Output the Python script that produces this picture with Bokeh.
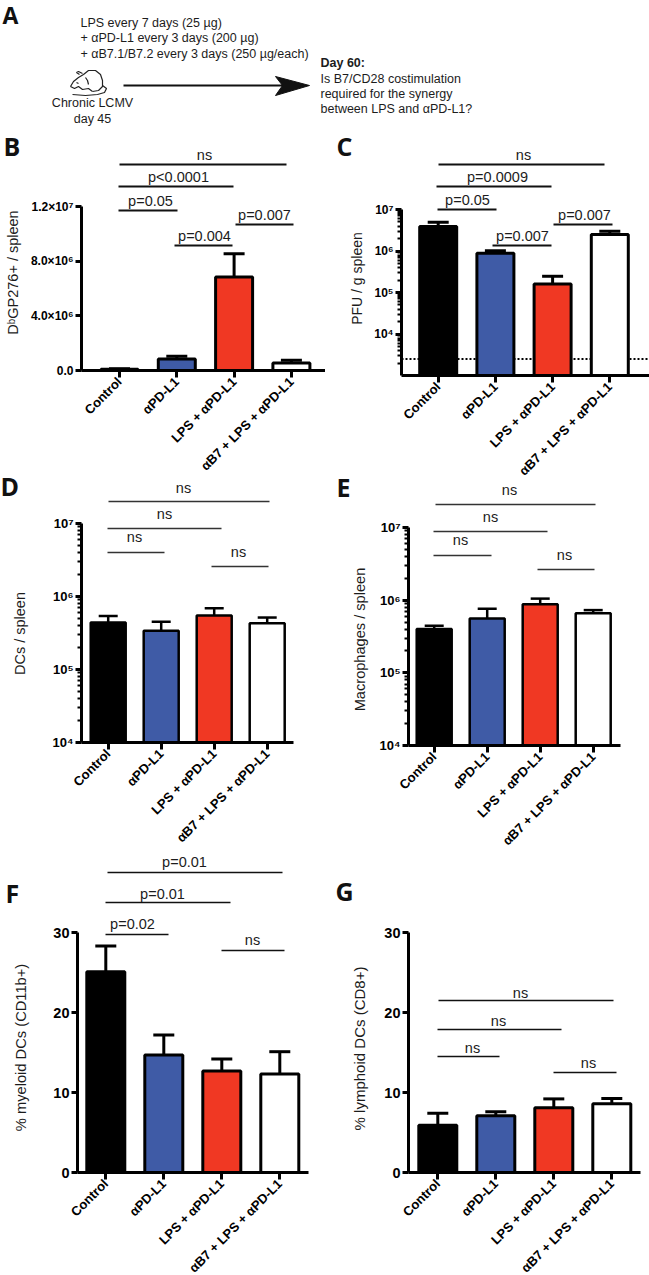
import math
from bokeh.embed import file_html
from bokeh.layouts import column, row
from bokeh.models import FixedTicker, Label, Range1d
from bokeh.plotting import figure
from bokeh.resources import INLINE

# ---------- data ----------
categories = ["Control", "αPD-L1", "LPS + αPD-L1", "αB7 + LPS + αPD-L1"]

b_means = [0.1e6, 0.85e6, 6.85e6, 0.55e6]
b_tops = [0.13e6, 1.05e6, 8.55e6, 0.75e6]
c_means = [3.9e6, 8.8e5, 1.6e5, 2.5e6]
c_tops = [4.9e6, 1.02e6, 2.46e5, 3.0e6]
c_limit = 2.5e3
d_means = [4.4e5, 3.4e5, 5.5e5, 4.3e5]
d_tops = [5.4e5, 4.5e5, 6.9e5, 5.15e5]
e_means = [4.0e5, 5.6e5, 8.8e5, 6.6e5]
e_tops = [4.43e5, 7.6e5, 1.05e6, 7.3e5]
f_means = [25.1, 14.7, 12.7, 12.3]
f_tops = [28.3, 17.2, 14.2, 15.1]
g_means = [5.9, 7.1, 8.1, 8.6]
g_tops = [7.4, 7.6, 9.2, 9.25]

BAR_COLORS = ["#000000", "#3F5BA6", "#F03823", "#FFFFFF"]
SANS = "Liberation Sans"
TEXT = "#1c1c1c"
BASELINE_LIFT = 0.4  # Bokeh's alphabetic Label sits this many font sizes below the given y


def make_panel(letter, letter_pos, means, tops, cell, axis_x, axis_top, axis_bottom, x_end,
               c0, spacing, bar_px, bar_lw, log_span, linear_ticks, tick_size, title, title_pos,
               title_size, brackets, bracket_w, bracket_color, notes, tick_text=None, cap_px=21, limit=None):
    left, right, top, bottom = cell

    def vy(px):
        if log_span:
            lo, hi = log_span
            return 10 ** (lo + (axis_bottom - px) * (hi - lo) / (axis_bottom - axis_top))
        return (axis_bottom - px) * linear_ticks[-1] / (axis_bottom - axis_top)

    def vx(px):
        return (px - c0) / spacing

    y_base = 10 ** log_span[0] if log_span else 0
    y_stop = 10 ** log_span[1] if log_span else linear_ticks[-1]
    p = figure(width=right - left, height=bottom - top, output_backend="svg", toolbar_location=None,
               x_range=Range1d(vx(left), vx(right)), y_range=Range1d(vy(bottom), vy(top)),
               y_axis_type="log" if log_span else "linear", min_border=0, outline_line_color=None,
               background_fill_color="white", border_fill_color="white")
    p.grid.visible = False

    xa = p.xaxis[0]
    xa.fixed_location = y_base
    xa.bounds = (vx(axis_x), vx(x_end))
    xa.ticker = FixedTicker(ticks=list(range(4)))
    xa.major_label_overrides = {i: c for i, c in enumerate(categories)}
    xa.major_label_orientation = math.pi / 4
    xa.major_label_text_font = SANS
    xa.major_label_text_font_style = "bold"
    xa.major_label_text_font_size = "13px"
    xa.major_label_text_color = "#000000"
    xa.major_label_standoff = 2
    xa.axis_line_width = 3
    xa.axis_line_color = "black"
    xa.major_tick_line_width = 3
    xa.major_tick_out = 7
    xa.major_tick_in = 0
    xa.minor_tick_line_color = None

    ya = p.yaxis[0]
    ya.fixed_location = vx(axis_x)
    if log_span:
        lo, hi = log_span
        decades = [10.0 ** e for e in range(lo, hi)]
        minors = [d * m for d in decades for m in range(2, 10)]
        if limit is not None:  # lowest decade is only ticked down to about the detection limit
            minors = [m for m in minors if m >= limit * 0.8]
        majors = [10.0 ** e for e in range(hi + 1 - len(tick_text), hi + 1)]
        ya.ticker = FixedTicker(ticks=majors, minor_ticks=minors)
        ya.major_label_overrides = {m: t for m, t in zip(majors, tick_text)}
    else:
        ya.ticker = FixedTicker(ticks=linear_ticks)
        if tick_text:
            ya.major_label_overrides = {m: t for m, t in zip(linear_ticks, tick_text)}
    ya.bounds = (y_base, y_stop)
    ya.major_label_text_font = SANS
    ya.major_label_text_font_style = "bold"
    ya.major_label_text_font_size = tick_size
    ya.major_label_text_color = "#000000"
    ya.major_label_standoff = 2
    ya.axis_line_width = 3
    ya.axis_line_color = "black"
    ya.major_tick_line_width = 3
    ya.major_tick_out = 6
    ya.major_tick_in = 0
    ya.minor_tick_line_width = 2
    ya.minor_tick_out = 4
    ya.minor_tick_in = 0

    if limit is not None:
        p.line(x=[vx(axis_x), vx(x_end)], y=[limit, limit], line_color="black", line_width=2,
               line_dash="2 2")

    xs = list(range(4))
    base = [y_base] * 4
    cap = cap_px / 2 / spacing
    p.segment(x0=xs, y0=means, x1=xs, y1=tops, line_color="black", line_width=bar_lw)
    p.segment(x0=[x - cap for x in xs], y0=tops, x1=[x + cap for x in xs], y1=tops,
              line_color="black", line_width=bar_lw)
    p.vbar(x=xs, top=means, bottom=base, width=(bar_px - bar_lw) / spacing, fill_color=BAR_COLORS,
           line_color="black", line_width=bar_lw)

    for x0, x1, y in brackets:
        p.line(x=[vx(x0), vx(x1)], y=[vy(y), vy(y)], line_color=bracket_color, line_width=bracket_w)
    for txt, x, y in notes:
        p.add_layout(Label(x=vx(x), y=vy(y - BASELINE_LIFT * 14.5), text=txt, text_align="center",
                           text_baseline="alphabetic", text_font=SANS, text_font_size="14.5px", text_color=TEXT))
    p.add_layout(Label(x=vx(title_pos[0]), y=vy(title_pos[1]), text=title, angle=math.pi / 2,
                       text_align="center", text_baseline="middle", text_font=SANS,
                       text_font_size=title_size, text_color=TEXT))
    p.add_layout(Label(x=vx(letter_pos[0]), y=vy(letter_pos[1] - BASELINE_LIFT * 25), text=letter, text_align="left",
                       text_baseline="alphabetic", text_font="Open Sans", text_font_style="bold",
                       text_font_size="25px", text_color="#111111"))
    return p


# ---------- panel A ----------
a = figure(width=649, height=128, output_backend="svg", toolbar_location=None,
           x_range=Range1d(0, 649), y_range=Range1d(128, 0), min_border=0,
           outline_line_color=None, x_axis_location=None, y_axis_location=None)
a.grid.visible = False
for txt, x, y, al, st in [
    ("LPS every 7 days (25 µg)", 80, 27, "left", "normal"),
    ("+ αPD-L1 every 3 days (200 µg)", 80, 42, "left", "normal"),
    ("+ αB7.1/B7.2 every 3 days (250 µg/each)", 80, 58, "left", "normal"),
    ("Chronic LCMV", 92, 107, "center", "normal"),
    ("day 45", 92, 123, "center", "normal"),
    ("Day 60:", 320, 67, "left", "bold"),
    ("Is B7/CD28 costimulation", 320, 83, "left", "normal"),
    ("required for the synergy", 320, 98, "left", "normal"),
    ("between LPS and αPD-L1?", 320, 113, "left", "normal"),
]:
    a.add_layout(Label(x=x, y=y - BASELINE_LIFT * 12.5, text=txt, text_align=al, text_baseline="alphabetic",
                       text_font=SANS, text_font_size="12.5px", text_font_style=st, text_color=TEXT))
a.add_layout(Label(x=2, y=24 - BASELINE_LIFT * 23, text="A", text_baseline="alphabetic", text_font="Open Sans",
                   text_font_style="bold", text_font_size="23px", text_color="#111111"))
a.line(x=[123, 285], y=[85, 85], line_color="#111111", line_width=2)
a.patch(x=[309, 275, 282, 275], y=[85, 76, 85, 95], fill_color="#111111", line_color="#111111")
mouse_lines = [
    [(70, 86), (73, 81), (78, 77), (83, 74), (88, 70), (95, 70), (100, 74), (102, 80), (102, 86), (98, 90), (92, 91)],
    [(70, 86), (74, 88), (78, 86), (82, 89), (88, 88), (92, 91)],
    [(79, 74), (76, 72), (78, 71), (82, 73)],
    [(102, 85), (106, 88), (104, 92), (97, 94), (85, 95), (72, 94)],
    [(76, 82), (78, 83)],
    [(85, 77), (87, 80), (88, 84)],
]
for seg in mouse_lines:
    a.line(x=[q[0] for q in seg], y=[q[1] for q in seg], line_color="#222222", line_width=1.2)

# ---------- panels B-G ----------
pB = make_panel("B", (3, 155), b_means, b_tops, (0, 325, 128, 477), 81, 206, 370, 325, 119, 57.3, 40, 3,
                None, [0, 4e6, 8e6, 1.2e7], "12px", "DᵇGP276+ / spleen", (12, 272), "14.5px",
                [(119, 286, 164), (118, 233, 186), (118, 177, 210), (174, 232, 245), (235, 293, 224)], 2, "#111111",
                [("ns", 204, 160), ("p<0.0001", 178, 182), ("p=0.05", 150, 206), ("p=0.004", 204, 241), ("p=0.007", 264, 220)],
                tick_text=["0.0", "4.0×10⁶", "8.0×10⁶", "1.2×10⁷"])
pC = make_panel("C", (336, 155), c_means, c_tops, (325, 649, 128, 477), 401, 209, 375, 649, 437.7, 57.2, 40, 3,
                (3, 7), None, "12px", "PFU / g spleen", (356, 278), "14px",
                [(438, 604, 164), (436, 551, 186), (437, 496, 209), (492, 551, 245), (553, 612, 224)], 2, "#111111",
                [("ns", 523, 160), ("p=0.0009", 497, 182), ("p=0.05", 467, 205), ("p=0.007", 522, 241), ("p=0.007", 584, 220)],
                tick_text=["10⁴", "10⁵", "10⁶", "10⁷"], limit=c_limit)
pD = make_panel("D", (0, 495), d_means, d_tops, (0, 325, 477, 848), 81, 523, 742, 293, 107.7, 53, 37.5, 2.5,
                (4, 7), None, "13px", "DCs / spleen", (19, 633), "14.5px",
                [(108, 269, 501), (107, 221, 528), (107, 164, 552), (211, 268, 566)], 1.3, "#333333",
                [("ns", 183, 493), ("ns", 164, 519), ("ns", 134, 542), ("ns", 238, 557)],
                tick_text=["10⁴", "10⁵", "10⁶", "10⁷"], cap_px=19)
pE = make_panel("E", (336, 496), e_means, e_tops, (325, 649, 477, 848), 408, 527, 745, 620, 433.7, 53, 37.5, 2.5,
                (4, 7), None, "13px", "Macrophages / spleen", (359, 639), "14.6px",
                [(435, 595, 504), (433, 547, 531), (433, 491, 555), (537, 594, 569)], 1.5, "#333333",
                [("ns", 509, 495), ("ns", 490, 522), ("ns", 460, 545), ("ns", 564, 560)],
                tick_text=["10⁴", "10⁵", "10⁶", "10⁷"], cap_px=19)
pF = make_panel("F", (5, 902), f_means, f_tops, (0, 325, 848, 1275), 77, 932, 1172, 308, 105.3, 58, 41, 3,
                None, [0, 10, 20, 30], "14.5px", "% myeloid DCs (CD11b+)", (20, 1047), "14.7px",
                [(107, 282, 872), (105, 230, 902), (105, 168, 934), (221, 284, 950)], 1.7, "#111111",
                [("p=0.01", 184, 867), ("p=0.01", 162, 899), ("p=0.02", 132, 929), ("ns", 252, 945)])
pG = make_panel("G", (335, 900), g_means, g_tops, (325, 649, 848, 1275), 408, 932, 1172, 640, 437.3, 58, 41, 3,
                None, [0, 10, 20, 30], "14.5px", "% lymphoid DCs (CD8+)", (359, 1048), "15px",
                [(438, 613, 1000), (437, 561, 1029), (437, 499, 1056), (553, 616, 1072)], 1.5, "#111111",
                [("ns", 520, 998), ("ns", 498, 1026), ("ns", 472, 1053), ("ns", 588, 1068)])

page = column(a, row(pB, pC), row(pD, pE), row(pF, pG))
open("out.html", "w").write(file_html(page, INLINE))
